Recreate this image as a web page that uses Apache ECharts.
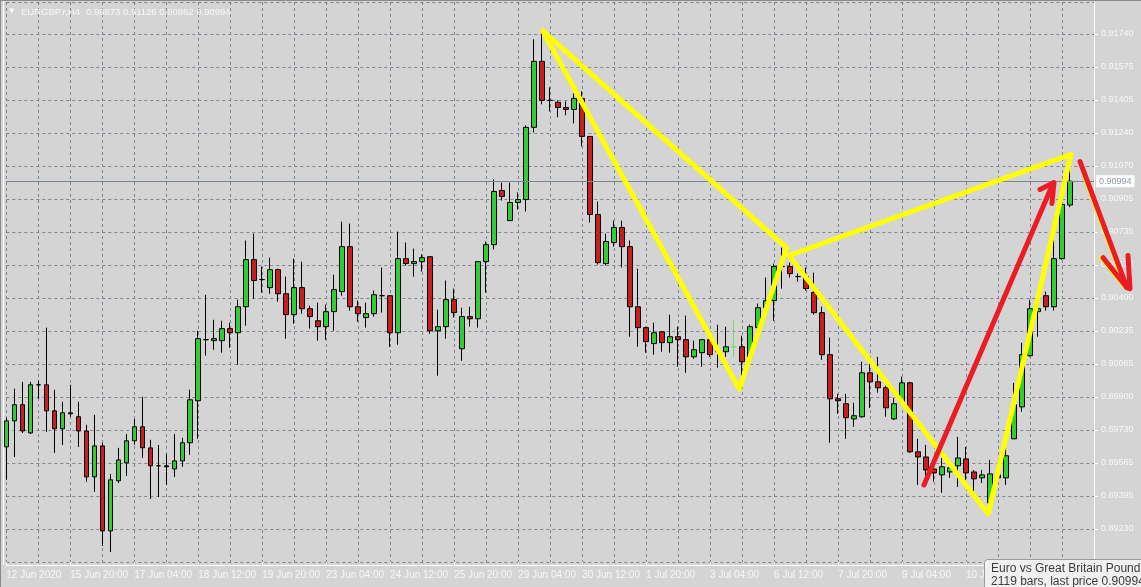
<!DOCTYPE html>
<html>
<head>
<meta charset="utf-8">
<script src="https://cdn.jsdelivr.net/npm/echarts@6.0.0/dist/echarts.min.js"></script>
<style>
html,body{margin:0;padding:0;background:#d4d4d4;overflow:hidden;}
#c{width:1141px;height:587px;}
</style>
</head>
<body>
<div id="c"></div>
<script>
// ---------- data ----------
const SYMBOL = 'EURGBP.r,H4';
const INFO_TITLE = 'Euro vs Great Britain Pound';
const BAR_COUNT = 2119;

// bottom time labels, one every 8 H4 bars starting at bar 0
const X_TICK_LABELS = ['12 Jun 2020', '15 Jun 20:00', '17 Jun 04:00', '18 Jun 12:00', '19 Jun 20:00',
  '23 Jun 04:00', '24 Jun 12:00', '25 Jun 20:00', '29 Jun 04:00', '30 Jun 12:00', '1 Jul 20:00',
  '3 Jul 04:00', '6 Jul 12:00', '7 Jul 20:00', '9 Jul 04:00', '10 Jul 12:00', '13 Jul 20:00'];

// right price labels, bottom to top
const Y_TICK_LABELS = ['0.89230', '0.89395', '0.89565', '0.89730', '0.89900', '0.90065', '0.90235', '0.90400',
  '0.90570', '0.90735', '0.90905', '0.91070', '0.91240', '0.91405', '0.91575', '0.91740'];

// H4 candles: [open, close, low, high]
const CANDLES = [
  [0.89646, 0.89778, 0.89479, 0.89794], [0.89778, 0.89860, 0.89595, 0.89941], [0.89860, 0.89727, 0.89717, 0.89976],
  [0.89717, 0.89961, 0.89712, 0.89976], [0.89961, 0.89961, 0.89890, 0.89982], [0.89961, 0.89829, 0.89722, 0.90251],
  [0.89829, 0.89738, 0.89616, 0.89936], [0.89738, 0.89819, 0.89656, 0.89875], [0.89819, 0.89814, 0.89799, 0.89961],
  [0.89799, 0.89727, 0.89646, 0.89875], [0.89727, 0.89494, 0.89469, 0.89758], [0.89494, 0.89651, 0.89418, 0.89809],
  [0.89651, 0.89220, 0.89143, 0.89667], [0.89220, 0.89479, 0.89113, 0.89509], [0.89474, 0.89580, 0.89463, 0.89641],
  [0.89565, 0.89677, 0.89499, 0.89712], [0.89677, 0.89748, 0.89656, 0.89788], [0.89748, 0.89641, 0.89590, 0.89900],
  [0.89641, 0.89550, 0.89382, 0.89682], [0.89550, 0.89550, 0.89392, 0.89656], [0.89550, 0.89545, 0.89453, 0.89611],
  [0.89534, 0.89575, 0.89494, 0.89712], [0.89575, 0.89667, 0.89545, 0.89692], [0.89667, 0.89885, 0.89606, 0.89936],
  [0.89880, 0.90195, 0.89687, 0.90235], [0.90190, 0.90190, 0.90109, 0.90418], [0.90185, 0.90195, 0.90139, 0.90291],
  [0.90185, 0.90246, 0.90124, 0.90286], [0.90246, 0.90225, 0.90149, 0.90276], [0.90225, 0.90357, 0.90063, 0.90393],
  [0.90357, 0.90596, 0.90261, 0.90693], [0.90596, 0.90490, 0.90398, 0.90728], [0.90495, 0.90495, 0.90429, 0.90561],
  [0.90454, 0.90545, 0.90423, 0.90606], [0.90545, 0.90423, 0.90383, 0.90550], [0.90423, 0.90317, 0.90195, 0.90510],
  [0.90317, 0.90454, 0.90271, 0.90601], [0.90454, 0.90347, 0.90322, 0.90586], [0.90347, 0.90307, 0.90246, 0.90363],
  [0.90286, 0.90256, 0.90185, 0.90378], [0.90256, 0.90332, 0.90190, 0.90368], [0.90332, 0.90444, 0.90235, 0.90520],
  [0.90434, 0.90662, 0.90413, 0.90789], [0.90662, 0.90357, 0.90337, 0.90779], [0.90357, 0.90322, 0.90281, 0.90388],
  [0.90302, 0.90322, 0.90251, 0.90378], [0.90322, 0.90418, 0.90307, 0.90439], [0.90413, 0.90413, 0.90327, 0.90556],
  [0.90413, 0.90225, 0.90154, 0.90413], [0.90225, 0.90601, 0.90164, 0.90738], [0.90601, 0.90576, 0.90566, 0.90683],
  [0.90576, 0.90586, 0.90510, 0.90652], [0.90586, 0.90606, 0.90535, 0.90622], [0.90611, 0.90235, 0.90220, 0.90611],
  [0.90235, 0.90256, 0.90007, 0.90342], [0.90256, 0.90393, 0.90195, 0.90490], [0.90393, 0.90327, 0.90302, 0.90449],
  [0.90144, 0.90307, 0.90083, 0.90352], [0.90307, 0.90296, 0.90256, 0.90357], [0.90296, 0.90586, 0.90251, 0.90586],
  [0.90586, 0.90672, 0.90429, 0.90688], [0.90672, 0.90942, 0.90647, 0.91003], [0.90947, 0.90916, 0.90896, 0.90987],
  [0.90794, 0.90886, 0.90794, 0.90987], [0.90886, 0.90901, 0.90850, 0.90937], [0.90901, 0.91267, 0.90840, 0.91277],
  [0.91267, 0.91602, 0.91241, 0.91714], [0.91602, 0.91404, 0.91384, 0.91749], [0.91404, 0.91404, 0.91348, 0.91470],
  [0.91394, 0.91368, 0.91318, 0.91404], [0.91368, 0.91358, 0.91328, 0.91399], [0.91358, 0.91414, 0.91287, 0.91439],
  [0.91414, 0.91221, 0.91170, 0.91450], [0.91221, 0.90825, 0.90784, 0.91221], [0.90825, 0.90581, 0.90571, 0.90891],
  [0.90576, 0.90688, 0.90566, 0.90728], [0.90683, 0.90759, 0.90662, 0.90794], [0.90759, 0.90662, 0.90556, 0.90794],
  [0.90662, 0.90357, 0.90205, 0.90693], [0.90357, 0.90251, 0.90154, 0.90550], [0.90251, 0.90180, 0.90124, 0.90256],
  [0.90170, 0.90225, 0.90114, 0.90276], [0.90230, 0.90175, 0.90129, 0.90230], [0.90175, 0.90205, 0.90124, 0.90317],
  [0.90205, 0.90190, 0.90053, 0.90256], [0.90190, 0.90103, 0.90022, 0.90312], [0.90103, 0.90139, 0.90093, 0.90185],
  [0.90124, 0.90190, 0.90053, 0.90190], [0.90190, 0.90114, 0.90103, 0.90210], [0.90129, 0.90129, 0.90048, 0.90266],
  [0.90129, 0.90154, 0.90103, 0.90256], [0.90154, 0.90154, 0.90103, 0.90291], [0.90154, 0.90078, 0.90002, 0.90210],
  [0.90103, 0.90256, 0.90103, 0.90266], [0.90251, 0.90352, 0.90251, 0.90373], [0.90352, 0.90388, 0.90352, 0.90505],
  [0.90388, 0.90561, 0.90286, 0.90576], [0.90561, 0.90561, 0.90449, 0.90657], [0.90561, 0.90525, 0.90505, 0.90581],
  [0.90510, 0.90510, 0.90484, 0.90525], [0.90510, 0.90449, 0.90439, 0.90556], [0.90429, 0.90327, 0.90317, 0.90530],
  [0.90327, 0.90114, 0.90088, 0.90357], [0.90114, 0.89890, 0.89667, 0.90200], [0.89890, 0.89880, 0.89814, 0.89915],
  [0.89865, 0.89794, 0.89687, 0.89915], [0.89788, 0.89804, 0.89748, 0.89870], [0.89799, 0.90022, 0.89794, 0.90078],
  [0.90022, 0.89976, 0.89844, 0.90078], [0.89976, 0.89946, 0.89921, 0.90103], [0.89946, 0.89844, 0.89799, 0.89956],
  [0.89788, 0.89865, 0.89783, 0.89895], [0.89870, 0.89971, 0.89870, 0.90002], [0.89971, 0.89621, 0.89616, 0.89976],
  [0.89621, 0.89595, 0.89453, 0.89687], [0.89595, 0.89529, 0.89469, 0.89656], [0.89534, 0.89514, 0.89469, 0.89545],
  [0.89504, 0.89545, 0.89413, 0.89590], [0.89519, 0.89540, 0.89489, 0.89570], [0.89550, 0.89590, 0.89443, 0.89697],
  [0.89585, 0.89514, 0.89479, 0.89646], [0.89519, 0.89484, 0.89418, 0.89529], [0.89489, 0.89504, 0.89463, 0.89529],
  [0.89362, 0.89509, 0.89341, 0.89580], [0.89504, 0.89489, 0.89469, 0.89514], [0.89489, 0.89601, 0.89453, 0.89697],
  [0.89687, 0.89860, 0.89687, 0.89971], [0.89849, 0.90114, 0.89824, 0.90175], [0.90109, 0.90347, 0.90103, 0.90393],
  [0.90332, 0.90347, 0.90205, 0.90403], [0.90413, 0.90357, 0.90337, 0.90434], [0.90357, 0.90601, 0.90337, 0.90698],
  [0.90601, 0.90876, 0.90596, 0.90886], [0.90873, 0.90994, 0.90862, 0.91126]
];
const LIGHT_GREEN_BAR = 91;      // thin light-green cross
const EMPTY_SLOTS_RIGHT = 3;     // chart shift space

// hand-drawn annotations: [bar index, price]
const YELLOW_PATH_1 = [[67.07, 0.91756], [91.65, 0.89939], [97.57, 0.90656], [67.07, 0.91756]];
const YELLOW_PATH_2 = [[97.86, 0.90617], [122.78, 0.89306], [133.12, 0.91130], [97.86, 0.90617]];
const YELLOW_PATH_3 = [[134.75, 0.91023], [139.87, 0.90459]];
const YELLOW_PATH_4 = [[136.87, 0.90606], [139.60, 0.90470]];
const RED_PATH_1 = [[114.74, 0.89453], [130.87, 0.90982]];
const RED_HEAD_1 = [[129.24, 0.90952], [131.00, 0.90987], [130.74, 0.90881]];
const RED_PATH_2 = [[134.25, 0.91094], [140.12, 0.90454]];
const RED_HEAD_2 = [[137.12, 0.90606], [140.12, 0.90454], [140.50, 0.90449], [140.25, 0.90617]];

// price scale
const STEP = 0.0016741;
const Y_MIN = 532 * STEP;
const Y_MAX = 0.91903;

// ---------- chart ----------
const FONT = '"Liberation Sans", Arial, sans-serif';
const TXT = '#f8f8f8';
const GRIDC = '#7b8591';
const N = CANDLES.length + EMPTY_SLOTS_RIGHT;
const BAR_SLOTS = Array.from({length: N}, (_, i) => 'bar' + i);
const last = CANDLES[CANDLES.length - 1];
const LAST_CLOSE = last[1];

// main plot: left 6.3 .. 1094 ; overlay plot for drawings spans to the canvas edge
const PLOT_LEFT = 6.3, PLOT_W = 1087.7, OVER_W = 1134.7;
const OVER_MAX = (N - 1) * OVER_W / PLOT_W;

const candleData = CANDLES.map((c, i) => i === LIGHT_GREEN_BAR
  ? {value: c, itemStyle: {borderColor: '#66e066', borderColor0: '#66e066', borderColorDoji: '#66e066'}}
  : c);

function pathSeries(data, color, width, z) {
  return {
    type: 'line', xAxisIndex: 1, yAxisIndex: 1, data: data,
    symbol: 'none', showSymbol: false, clip: false, silent: true, z: z,
    lineStyle: {color: color, width: width, cap: 'round', join: 'round'},
    emphasis: {disabled: true}
  };
}

const chart = echarts.init(document.getElementById('c'), null, {renderer: 'canvas', width: 1141, height: 587});
chart.setOption({
  animation: false,
  backgroundColor: '#d4d4d4',
  grid: [
    {left: PLOT_LEFT, top: 2, width: PLOT_W, height: 560, containLabel: false},
    {left: PLOT_LEFT, top: 2, width: OVER_W, height: 560, containLabel: false}
  ],
  xAxis: [{
    type: 'category', gridIndex: 0, data: BAR_SLOTS, boundaryGap: false, offset: 3,
    axisLine: {show: true, onZero: false, lineStyle: {color: '#ffffff', width: 1}},
    axisTick: {show: true, interval: 7, inside: true, length: 3, lineStyle: {color: '#ffffff'}},
    axisLabel: {show: true, interval: 7, align: 'left', margin: 5, color: TXT, fontSize: 10, fontFamily: FONT,
      formatter: (v, i) => X_TICK_LABELS[i / 8] || ''},
    splitLine: {show: true, interval: 3, lineStyle: {color: GRIDC, type: [3, 3], width: 1}}
  }, {
    type: 'value', gridIndex: 1, min: 0, max: OVER_MAX, show: false
  }],
  yAxis: [{
    type: 'value', gridIndex: 0, position: 'right', min: Y_MIN, max: Y_MAX, interval: STEP,
    axisLine: {show: true, lineStyle: {color: '#ffffff'}},
    axisTick: {show: true, length: 4, lineStyle: {color: '#ffffff'}},
    axisLabel: {margin: 7, color: TXT, fontSize: 9, fontFamily: FONT, showMinLabel: false, showMaxLabel: false,
      formatter: v => Y_TICK_LABELS[Math.round(v / STEP) - 533] || ''},
    splitLine: {show: true, lineStyle: {color: GRIDC, type: [3, 3], width: 1}}
  }, {
    type: 'value', gridIndex: 1, min: Y_MIN, max: Y_MAX, show: false
  }],
  series: [{
    type: 'candlestick', xAxisIndex: 0, yAxisIndex: 0, data: candleData,
    barWidth: 5, clip: false, silent: true,
    itemStyle: {color: '#32cd32', color0: '#c81e1e', borderColor: '#000000', borderColor0: '#000000',
      borderColorDoji: '#000000', borderWidth: 1},
    markLine: {
      silent: true, symbol: ['none', 'none'], animation: false, precision: 5,
      data: [{yAxis: LAST_CLOSE}],
      lineStyle: {color: GRIDC, type: 'solid', width: 1},
      label: {position: 'end', distance: 2, color: '#8c9aa6', backgroundColor: '#ffffff',
        fontSize: 9, fontFamily: FONT, padding: [2, 3, 1, 3],
        formatter: p => Number(p.value).toFixed(5)},
      emphasis: {disabled: true}
    }
  },
    pathSeries(YELLOW_PATH_1, '#ffff00', 5, 5),
    pathSeries(YELLOW_PATH_2, '#ffff00', 5, 5),
    pathSeries(YELLOW_PATH_3, '#ffff00', 4, 5),
    pathSeries(YELLOW_PATH_4, '#ffff00', 4, 5),
    pathSeries(RED_PATH_1, '#ec1c24', 5, 6),
    pathSeries(RED_HEAD_1, '#ec1c24', 5, 6),
    pathSeries(RED_PATH_2, '#ec1c24', 5, 6),
    pathSeries(RED_HEAD_2, '#ec1c24', 5, 6)
  ],
  graphic: [
    {type: 'line', z: 50, shape: {x1: 3.5, y1: 0, x2: 3.5, y2: 565}, style: {stroke: '#ffffff', lineWidth: 1}},
    {type: 'line', z: 50, shape: {x1: 0.5, y1: 0, x2: 0.5, y2: 587}, style: {stroke: '#8a8a8a', lineWidth: 1}},
    {type: 'line', z: 50, shape: {x1: 0, y1: 0.5, x2: 1141, y2: 0.5}, style: {stroke: '#8a8a8a', lineWidth: 1}},
    {type: 'text', z: 50, x: 9, y: 8, style: {text: '▼', fill: TXT, fontSize: 7, fontFamily: 'DejaVu Sans', verticalAlign: 'top'}},
    {type: 'text', z: 50, x: 21, y: 7, style: {text: SYMBOL, fill: TXT, fontSize: 9.5, fontFamily: FONT, verticalAlign: 'top'}},
    {type: 'text', z: 50, x: 86, y: 7, style: {text: [last[0], last[3], last[2], last[1]].map(v => v.toFixed(5)).join(' '),
      fill: TXT, fontSize: 9.5, fontFamily: FONT, verticalAlign: 'top'}},
    {type: 'rect', z: 100, shape: {x: 984.5, y: 559.5, width: 160, height: 32, r: 3},
      style: {fill: '#f0f0f0', stroke: '#9a9a9a', lineWidth: 1}},
    {type: 'text', z: 101, x: 991, y: 563, style: {text: INFO_TITLE, fill: '#3c3c3c', fontSize: 12, fontFamily: FONT, verticalAlign: 'top'}},
    {type: 'text', z: 101, x: 991, y: 576, style: {text: BAR_COUNT + ' bars, last price ' + LAST_CLOSE.toFixed(5),
      fill: '#3c3c3c', fontSize: 12, fontFamily: FONT, verticalAlign: 'top'}}
  ]
});
</script>
</body>
</html>
